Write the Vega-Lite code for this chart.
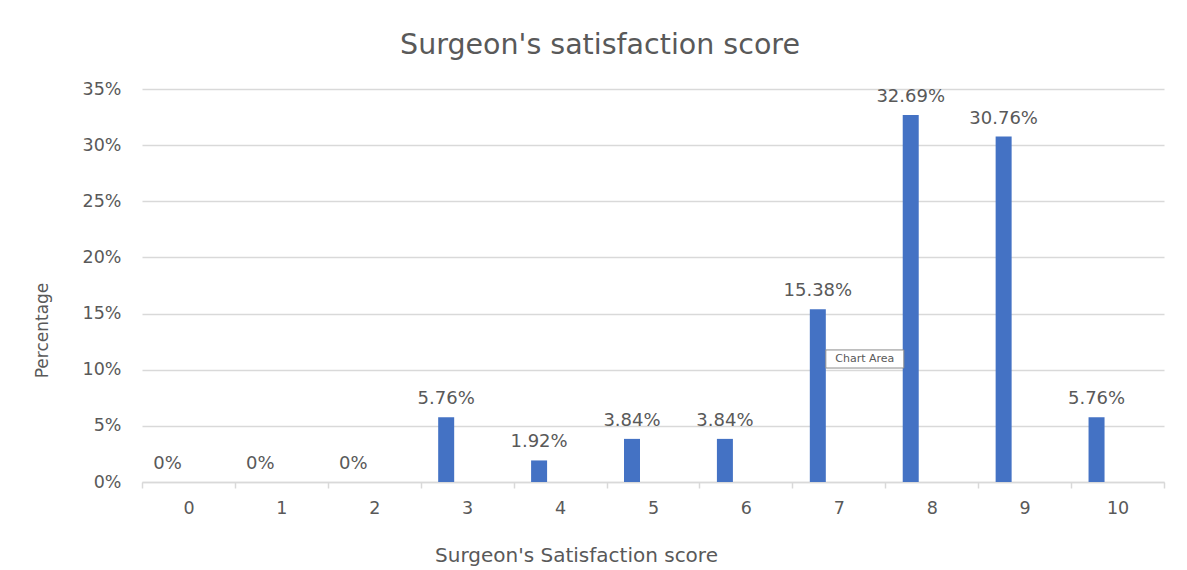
{
  "$schema": "https://vega.github.io/schema/vega-lite/v6.json",
  "width": 1022,
  "height": 393,
  "autosize": {"type": "none"},
  "padding": {"left": 142, "top": 89, "right": 23, "bottom": 88},
  "background": "white",
  "config": {"view": {"stroke": null}, "font": "DejaVu Sans"},
  "title": {
    "text": "Surgeon's satisfaction score",
    "fontSize": 28.5,
    "font": "DejaVu Sans",
    "fontWeight": "normal",
    "color": "#595959",
    "anchor": "middle",
    "frame": "group",
    "baseline": "bottom",
    "offset": 26,
    "dx": -53,
    "dy": 34
  },
  "data": {
    "values": [
      {"score": 0, "pct": 0},
      {"score": 1, "pct": 0},
      {"score": 2, "pct": 0},
      {"score": 3, "pct": 0.0576},
      {"score": 4, "pct": 0.0192},
      {"score": 5, "pct": 0.0384},
      {"score": 6, "pct": 0.0384},
      {"score": 7, "pct": 0.1538},
      {"score": 8, "pct": 0.3269},
      {"score": 9, "pct": 0.3076},
      {"score": 10, "pct": 0.0576}
    ]
  },
  "encoding": {
    "x": {
      "field": "score",
      "type": "ordinal",
      "scale": {"paddingInner": 0, "paddingOuter": 0},
      "axis": {
        "title": "Surgeon's Satisfaction score",
        "labelAngle": 0,
        "tickBand": "extent",
        "tickColor": "#d9d9d9",
        "tickSize": 6,
        "tickWidth": 1.5,
        "domainColor": "#d9d9d9",
        "domainWidth": 1.5,
        "labelColor": "#595959",
        "labelFontSize": 17.5,
        "labelFont": "DejaVu Sans",
        "labelPadding": 11,
        "titleColor": "#595959",
        "titleFontSize": 20,
        "titleFont": "DejaVu Sans",
        "titleFontWeight": "normal",
        "titleX": 434,
        "titleY": 73,
        "titleAlign": "center",
        "titleBaseline": "middle"
      }
    },
    "y": {
      "field": "pct",
      "type": "quantitative",
      "scale": {"domain": [0, 0.35], "nice": false},
      "axis": {
        "title": "Percentage",
        "values": [0, 0.05, 0.1, 0.15, 0.2, 0.25, 0.3, 0.35],
        "format": ".0%",
        "domain": false,
        "ticks": false,
        "gridColor": "#d9d9d9",
        "gridWidth": 1.5,
        "labelColor": "#595959",
        "labelFontSize": 17.5,
        "labelFont": "DejaVu Sans",
        "labelPadding": 21,
        "titleColor": "#595959",
        "titleFontSize": 17,
        "titleFont": "DejaVu Sans",
        "titleFontWeight": "normal",
        "titleAngle": -90,
        "titleX": -100,
        "titleY": 241,
        "titleAlign": "center",
        "titleBaseline": "middle"
      }
    }
  },
  "layer": [
    {
      "mark": {"type": "bar", "color": "#4472C4", "width": 16, "xOffset": -21}
    },
    {
      "mark": {
        "type": "text",
        "xOffset": -21,
        "dy": -9,
        "baseline": "bottom",
        "fontSize": 18,
        "font": "DejaVu Sans",
        "color": "#595959"
      },
      "encoding": {"text": {"field": "pct", "format": ".2~%"}}
    },
    {
      "data": {"values": [{"score": 7, "pct": 0.1176, "bottom": 0.1015, "note": "Chart Area"}]},
      "layer": [
        {
          "mark": {"type": "bar", "width": 78, "xOffset": 26, "fill": "white", "stroke": "#8c8c8c", "strokeWidth": 1},
          "encoding": {"y2": {"field": "bottom"}}
        },
        {
          "mark": {"type": "text", "xOffset": 26, "dy": 3, "fontSize": 11, "font": "DejaVu Sans", "color": "#595959", "baseline": "top"},
          "encoding": {"text": {"field": "note"}}
        }
      ]
    }
  ]
}
